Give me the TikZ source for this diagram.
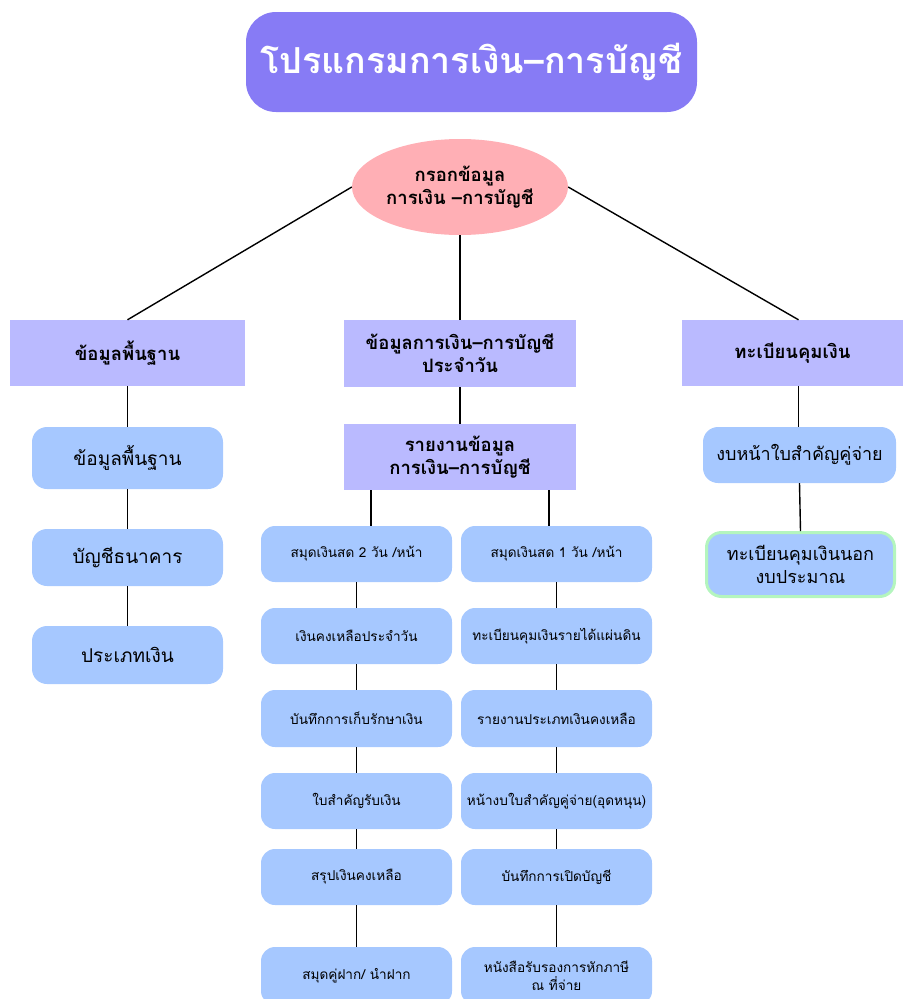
\documentclass[tikz,border=0pt]{standalone}
\usepackage{fontspec}
\setmainfont[Script=Thai]{Loma}
\usetikzlibrary{shapes.geometric}
\definecolor{titlefill}{HTML}{877BF5}
\definecolor{ellfill}{HTML}{FFAFB5}
\definecolor{headfill}{HTML}{BABAFF}
\definecolor{boxfill}{HTML}{A6C8FF}
\definecolor{greenedge}{HTML}{B4F5BE}
\tikzset{
  x=1pt, y=-1pt,
  titlebox/.style={fill=titlefill, draw=none, rounded corners=30pt, text=white, font=\fontsize{35.8}{42}\selectfont\bfseries, align=center, inner sep=0pt},
  ellbox/.style={ellipse, fill=ellfill, draw=none, font=\fontsize{18.5}{23}\selectfont\bfseries, align=center, inner sep=0pt},
  headbox/.style={rectangle, fill=headfill, draw=none, font=\fontsize{18.5}{23}\selectfont\bfseries, align=center, inner sep=0pt},
  bigbox/.style={rectangle, rounded corners=15pt, fill=boxfill, draw=none, font=\fontsize{19}{24}\selectfont, align=center, inner sep=0pt},
  smallbox/.style={rectangle, rounded corners=14pt, fill=boxfill, draw=none, font=\fontsize{13.6}{17.5}\selectfont, align=center, inner sep=0pt, minimum width=191pt},
  link/.style={draw=black, line width=1.4pt}
}
\begin{document}
\begin{tikzpicture}
\useasboundingbox (0,0) rectangle (903,999);
\node[titlebox, minimum width=451pt, minimum height=100pt] (title) at (471.5,62) {โปรแกรมการเงิน–การบัญชี};
\node[ellbox, minimum width=216pt, minimum height=96pt] (e) at (460,187) {กรอกข้อมูล\\การเงิน –การบัญชี};
\node[headbox, minimum width=235pt, minimum height=66pt] (hL) at (127.5,353) {ข้อมูลพื้นฐาน};
\node[headbox, minimum width=232pt, minimum height=67pt] (hC) at (460,353.5) {ข้อมูลการเงิน–การบัญชี\\ประจำวัน};
\node[headbox, minimum width=221pt, minimum height=66pt] (hR) at (792.5,353) {ทะเบียนคุมเงิน};
\node[bigbox, minimum width=191pt, minimum height=62pt] (L1) at (127.5,458) {ข้อมูลพื้นฐาน};
\node[bigbox, minimum width=191pt, minimum height=57pt] (L2) at (127.5,557.5) {บัญชีธนาคาร};
\node[bigbox, minimum width=191pt, minimum height=58pt] (L3) at (127.5,655) {ประเภทเงิน};
\node[headbox, minimum width=232pt, minimum height=66pt] (hC2) at (460,457) {รายงานข้อมูล\\การเงิน–การบัญชี};
\node[smallbox, minimum height=56pt] (A1) at (356.5,554) {สมุดเงินสด 2 วัน /หน้า};
\node[smallbox, minimum height=56pt] (A2) at (356.5,636) {เงินคงเหลือประจำวัน};
\node[smallbox, minimum height=57pt] (A3) at (356.5,718.5) {บันทึกการเก็บรักษาเงิน};
\node[smallbox, minimum height=56pt] (A4) at (356.5,801) {ใบสำคัญรับเงิน};
\node[smallbox, minimum height=56pt] (A5) at (356.5,877) {สรุปเงินคงเหลือ};
\node[smallbox, minimum height=58pt] (A6) at (356.5,976) {สมุดคู่ฝาก/ นำฝาก};
\node[smallbox, minimum height=56pt] (B1) at (556.5,554) {สมุดเงินสด 1 วัน /หน้า};
\node[smallbox, minimum height=56pt] (B2) at (556.5,636) {ทะเบียนคุมเงินรายได้แผ่นดิน};
\node[smallbox, minimum height=57pt] (B3) at (556.5,718.5) {รายงานประเภทเงินคงเหลือ};
\node[smallbox, minimum height=56pt] (B4) at (556.5,801) {หน้างบใบสำคัญคู่จ่าย(อุดหนุน)};
\node[smallbox, minimum height=56pt] (B5) at (556.5,877) {บันทึกการเปิดบัญชี};
\node[smallbox, minimum height=58pt] (B6) at (556.5,976) {หนังสือรับรองการหักภาษี\\ณ ที่จ่าย};
\node[bigbox, font=\fontsize{18}{23}\selectfont, minimum width=193pt, minimum height=56pt] (R1) at (799.5,455) {งบหน้าใบสำคัญคู่จ่าย};
\node[bigbox, font=\fontsize{18}{23}\selectfont, draw=greenedge, line width=3pt, minimum width=188pt, minimum height=64pt] (R2) at (800.5,564.5) {ทะเบียนคุมเงินนอก\\งบประมาณ};
% connectors
\draw[link] (e.west) -- (hL.north);
\draw[link] (e.south) -- (hC.north);
\draw[link] (e.east) -- ([xshift=6pt]hR.north);
\draw[link] (hL.south) -- (L1.north);
\draw[link] (L1.south) -- (L2.north);
\draw[link] (L2.south) -- (L3.north);
\draw[link] (hC.south) -- (hC2.north);
\draw[link] ([xshift=-89pt]hC2.south) -- ([xshift=-89pt]hC2.south |- A1.north);
\draw[link] ([xshift=89pt]hC2.south) -- ([xshift=89pt]hC2.south |- B1.north);
\foreach \a/\b in {A1/A2,A2/A3,A3/A4,A4/A5,A5/A6,B1/B2,B2/B3,B3/B4,B4/B5,B5/B6} {
  \draw[link] (\a.south) -- (\b.north);
}
\draw[link] ([xshift=6pt]hR.south) -- ([xshift=6pt]hR.south |- R1.north);
\draw[link] (R1.south) -- (R2.north);
\end{tikzpicture}
\end{document}
